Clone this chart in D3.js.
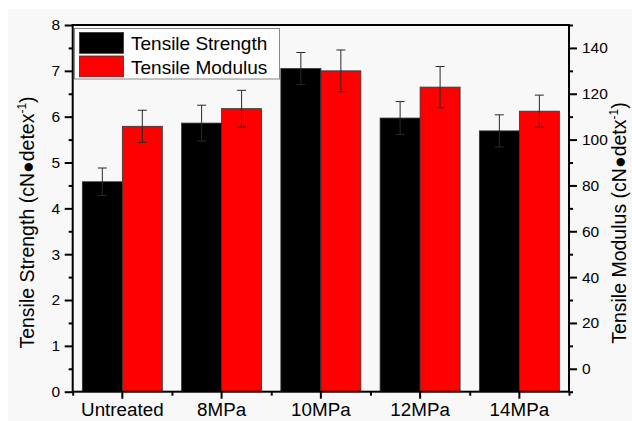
<!DOCTYPE html>
<html>
<head>
<meta charset="utf-8">
<script src="https://cdn.jsdelivr.net/npm/d3@7/dist/d3.min.js"></script>
<style>
  body { margin: 0; background: #fff; }
  text { font-family: "Liberation Sans", Arial, sans-serif; fill: #000; }
</style>
</head>
<body>
<svg id="chart" width="632" height="421"></svg>
<script>
// ---- data ----
const categories = ["Untreated", "8MPa", "10MPa", "12MPa", "14MPa"];
const seriesNames = ["Tensile Strength", "Tensile Modulus"];
const strength = [4.58, 5.86, 7.05, 5.97, 5.69];
const strengthErr = [0.30, 0.39, 0.35, 0.36, 0.35];
const modulus = [105.8, 113.5, 130.0, 122.9, 112.4];
const modulusErr = [7.0, 8.0, 9.1, 9.0, 7.0];
const leftTicks = [0, 1, 2, 3, 4, 5, 6, 7, 8];
const rightTicks = [0, 20, 40, 60, 80, 100, 120, 140];
const colors = ["#000000", "#ff0000"];

// ---- layout ----
const svg = d3.select("#chart");
const L = 72.7, R = 569, T = 25, B = 391.7;

svg.append("rect").attr("x", 8).attr("y", 9).attr("width", 632).attr("height", 421).attr("fill", "#f8f8f8");

const x = d3.scaleBand().domain(categories).range([L, R]).padding(0);
const xi = d3.scaleBand().domain(seriesNames).range([0, x.bandwidth()]).paddingInner(0).paddingOuter(0.241);
const yL = d3.scaleLinear().domain([0, 8]).range([B, T]);
const yR = d3.scaleLinear().domain([-10, 150]).range([B, T]);

const data = categories.map((c, i) => ({
  cat: c,
  items: [
    { s: seriesNames[0], v: strength[i], e: strengthErr[i], y: yL, c: colors[0] },
    { s: seriesNames[1], v: modulus[i], e: modulusErr[i], y: yR, c: colors[1] }
  ]
}));

// bars
const g = svg.append("g");
const groups = g.selectAll("g.cat").data(data).join("g")
  .attr("transform", d => `translate(${x(d.cat)},0)`);

groups.selectAll("rect").data(d => d.items).join("rect")
  .attr("x", d => xi(d.s))
  .attr("width", xi.bandwidth())
  .attr("y", d => d.y(d.v))
  .attr("height", d => B - d.y(d.v))
  .attr("fill", d => d.c)
  .attr("stroke", "#333")
  .attr("stroke-width", 0.8);

// error bars
const eb = groups.selectAll("g.err").data(d => d.items).join("g").attr("class", "err")
  .attr("stroke", "#2a2a2a").attr("stroke-width", 1);
eb.append("line")
  .attr("x1", d => xi(d.s) + xi.bandwidth() / 2).attr("x2", d => xi(d.s) + xi.bandwidth() / 2)
  .attr("y1", d => d.y(d.v + d.e)).attr("y2", d => d.y(d.v - d.e));
eb.append("line")
  .attr("x1", d => xi(d.s) + xi.bandwidth() / 2 - 4.5).attr("x2", d => xi(d.s) + xi.bandwidth() / 2 + 4.5)
  .attr("y1", d => d.y(d.v + d.e)).attr("y2", d => d.y(d.v + d.e));
eb.append("line")
  .attr("x1", d => xi(d.s) + xi.bandwidth() / 2 - 4.5).attr("x2", d => xi(d.s) + xi.bandwidth() / 2 + 4.5)
  .attr("y1", d => d.y(d.v - d.e)).attr("y2", d => d.y(d.v - d.e));

// axes
function styleAxis(sel, fs) {
  sel.select(".domain").remove();
  sel.selectAll("line").attr("stroke", "#000").attr("stroke-width", 2);
  sel.selectAll("text").style("font-size", fs + "px").attr("fill", "#000");
}

// left axis major
const aL = svg.append("g").attr("transform", `translate(${L},0)`)
  .call(d3.axisLeft(yL).tickValues(leftTicks).tickSize(8).tickPadding(4.5).tickFormat(d3.format("d")));
styleAxis(aL, 15.5);
const minorL = d3.range(0.5, 8, 1);
svg.append("g").attr("transform", `translate(${L},0)`)
  .call(d3.axisLeft(yL).tickValues(minorL).tickSize(4).tickFormat(""))
  .call(s => styleAxis(s, 15));

// right axis
const aR = svg.append("g").attr("transform", `translate(${R},0)`)
  .call(d3.axisRight(yR).tickValues(rightTicks).tickSize(8).tickPadding(5).tickFormat(d3.format("d")));
styleAxis(aR, 15.5);
const minorR = d3.range(-10, 151, 20);
svg.append("g").attr("transform", `translate(${R},0)`)
  .call(d3.axisRight(yR).tickValues(minorR).tickSize(4).tickFormat(""))
  .call(s => styleAxis(s, 15));

// bottom axis
const aB = svg.append("g").attr("transform", `translate(0,${B})`)
  .call(d3.axisBottom(x).tickSize(7).tickPadding(4));
styleAxis(aB, 18.8);
const bounds = categories.map(c => x(c)).concat([R]);
svg.append("g").attr("transform", `translate(0,${B})`)
  .call(d3.axisBottom(d3.scaleLinear().domain([L, R]).range([L, R])).tickValues(bounds).tickSize(4).tickFormat(""))
  .call(s => styleAxis(s, 15));

// frame
const frame = svg.append("g").attr("stroke", "#000").attr("stroke-width", 2).attr("fill", "none");
frame.append("rect").attr("x", L).attr("y", T).attr("width", R - L).attr("height", B - T);

// axis titles
const tl = svg.append("text").attr("transform", "translate(33.5,222.5) rotate(-90)")
  .attr("text-anchor", "middle").style("font-size", "19.5px");
tl.append("tspan").text("Tensile Strength (cN\u25CFdetex");
tl.append("tspan").text("-1").style("font-size", "12px").attr("dy", -8);
tl.append("tspan").text(")").attr("dy", 8);

const tr = svg.append("text").attr("transform", "translate(626,223) rotate(-90)")
  .attr("text-anchor", "middle").style("font-size", "19.5px");
tr.append("tspan").text("Tensile Modulus (cN\u25CFdetx");
tr.append("tspan").text("-1").style("font-size", "12px").attr("dy", -8);
tr.append("tspan").text(")").attr("dy", 8);

// legend
const lg = svg.append("g");
lg.append("rect").attr("x", 74.5).attr("y", 28.5).attr("width", 205).attr("height", 50.5)
  .attr("fill", "#fdfdfd").attr("stroke", "#888").attr("stroke-width", 1);
const li = lg.selectAll("g.item").data(seriesNames).join("g")
  .attr("transform", (d, i) => `translate(0,${i * 23.5})`);
li.append("rect").attr("x", 79.5).attr("y", 32.5).attr("width", 44).attr("height", 20.8)
  .attr("fill", (d, i) => colors[i]).attr("stroke", "#333").attr("stroke-width", 0.8);
li.append("text").attr("x", 131).attr("y", 50).style("font-size", "19px").text(d => d);
</script>
</body>
</html>
